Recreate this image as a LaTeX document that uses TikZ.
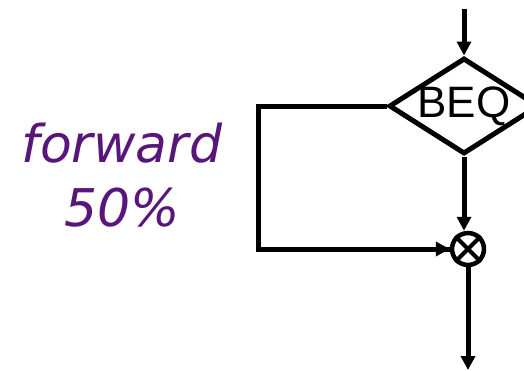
\documentclass[tikz,border=0pt]{standalone}
\usepackage{fontspec}
\setmainfont{Liberation Sans}
\newfontfamily\labelfont{DejaVu Sans}
\usetikzlibrary{shapes.geometric,arrows.meta}
\definecolor{fwdpurple}{RGB}{88,22,122}
\begin{document}
\begin{tikzpicture}[x=1pt,y=-1pt,
  flow/.style={line width=5pt},
  arr/.style={flow,-{Triangle[length=14pt,width=14pt]}},
  decision/.style={shape=diamond,draw,line width=5pt,aspect=1.5625,minimum width=150pt,minimum height=96pt,inner sep=-6pt,font=\fontsize{44}{48}\selectfont},
  mult/.style={circle,draw,line width=4.5pt,minimum size=32pt,inner sep=0pt},
  note/.style={font=\labelfont\itshape\fontsize{52}{64}\selectfont,text=fwdpurple,align=center}]
\useasboundingbox (0,0) rectangle (524,370);
\node[decision] (beq) at (464,106) {\raisebox{-2pt}{BEQ}};
\node[mult] (x) at (468,249) {};
\draw[line width=4pt] (x.north west) -- (x.south east) (x.north east) -- (x.south west);
\coordinate (top) at (464,9);
\coordinate (corner1) at (258,106);
\coordinate (corner2) at (258,249);
\coordinate (bot) at (468,370);
\draw[arr] (top) -- (beq.north);
\draw[flow,line join=miter] (beq.west) -- (corner1) -- (corner2) -- (corner2 -| x.west);
\draw[arr] (corner2) -- (x.west);
\draw[arr] (beq.south) -- (beq.south |- x.north);
\draw[arr] (x.south) -- (bot);
\node[note] (fwd) at (122,175) {forward\\50\%};
\end{tikzpicture}
\end{document}
